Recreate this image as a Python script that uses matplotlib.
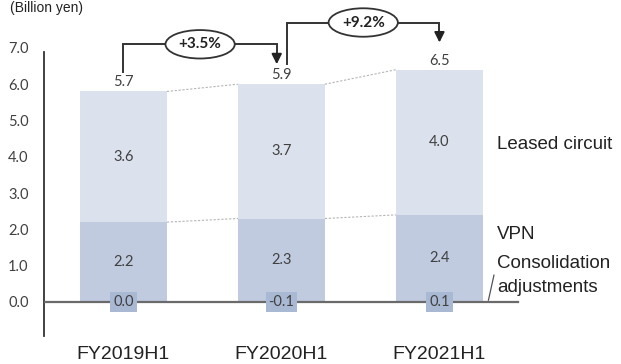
import matplotlib.pyplot as plt

periods = ["FY2019H1", "FY2020H1", "FY2021H1"]
leased = [3.6, 3.7, 4.0]
vpn = [2.2, 2.3, 2.4]
consol = [0.0, -0.1, 0.1]
totals = [5.7, 5.9, 6.5]
growth = ["+3.5%", "+9.2%"]
yticks = [0.0, 1.0, 2.0, 3.0, 4.0, 5.0, 6.0, 7.0]

c_leased = "#dbe2ee"
c_vpn = "#c0cbdf"
c_consol = "#a9b9d3"
txt = "#404040"
num_font = "Lato"
lab_font = "Liberation Sans"

fig = plt.figure(figsize=(6.21, 3.64), dpi=100)
ax = fig.add_axes([44 / 621, 28 / 364, 1 - 44 / 621, 336 / 364])
ax.set_xlim(-0.503, 3.149)
ax.set_ylim(-0.937, 8.32)

x = list(range(len(periods)))
w = 0.55

ax.bar(x, vpn, width=w, color=c_vpn, zorder=2)
ax.bar(x, leased, width=w, bottom=vpn, color=c_leased, zorder=2)
ax.bar(x, consol, width=0.16, color=c_consol, zorder=2)

# dotted connectors between neighbouring bars
tops = [v + l for v, l in zip(vpn, leased)]
for i in range(len(x) - 1):
    for a, b in [(tops[i], tops[i + 1]), (vpn[i], vpn[i + 1]), (0, 0)]:
        ax.plot([x[i] + w / 2, x[i + 1] - w / 2], [a, b], color="#b5b5b5",
                lw=0.8, ls=(0, (2, 1.5)), zorder=1)

# baseline
ax.plot([-0.503, 2.497], [0, 0], color="#6a6a6a", lw=1.6, zorder=3)

for i in x:
    ax.text(i, tops[i] + 0.25, f"{totals[i]:.1f}", ha="center", va="center",
            fontsize=10.5, family=num_font, color=txt)
    ax.text(i, vpn[i] + leased[i] / 2, f"{leased[i]:.1f}", ha="center", va="center",
            fontsize=10.5, family=num_font, color=txt)
    ax.text(i, vpn[i] / 2, f"{vpn[i]:.1f}", ha="center", va="center",
            fontsize=10.5, family=num_font, color=txt)
    ax.text(i, 0, f"{consol[i]:.1f}", ha="center", va="center", zorder=4,
            fontsize=10.5, family=num_font, color=txt,
            bbox=dict(boxstyle="square,pad=0.2", fc=c_consol, ec="none"))
    ax.text(i, -1.56, periods[i], ha="center", va="baseline", fontsize=14,
            family=lab_font, color="#222222", clip_on=False)

# growth brackets
for i, g in enumerate(growth):
    x0 = x[i] + (0.0 if i == 0 else 0.035)
    x1 = x[i + 1] - (0.03 if i == 0 else 0.0)
    y0 = totals[i] + 0.65
    y1 = totals[i + 1] + 0.65
    ytop = y1 + 0.55
    ax.plot([x0, x0, x1, x1], [y0, ytop, ytop, y1 + 0.25], color="#333333",
            lw=1.4, zorder=5, solid_joinstyle="miter")
    ax.annotate("", xy=(x1, y1), xytext=(x1, y1 + 0.3),
                arrowprops=dict(arrowstyle="-|>,head_length=0.6,head_width=0.3",
                                color="#222222", lw=1.4, shrinkA=0, shrinkB=0),
                zorder=5)
    ax.text((x0 + x1) / 2, ytop, g, ha="center", va="center", fontsize=11,
            fontweight="bold", family=num_font, color="#222222", zorder=6,
            bbox=dict(boxstyle="ellipse,pad=0.2", fc="white", ec="#333333", lw=1.3))

# series labels on the right
ax.text(2.364, 4.33, "Leased circuit", ha="left", va="center", fontsize=13.5,
        family=lab_font, color="#222222")
ax.text(2.364, 1.85, "VPN", ha="left", va="center", fontsize=13.5,
        family=lab_font, color="#222222")
ax.text(2.364, 1.05, "Consolidation", ha="left", va="center", fontsize=13.5,
        family=lab_font, color="#222222")
ax.text(2.364, 0.41, "adjustments", ha="left", va="center", fontsize=13.5,
        family=lab_font, color="#222222")
ax.plot([2.31, 2.345], [0.05, 0.74], color="#555555", lw=0.9)

fig.text(10 / 621, 1 - 1 / 364, "(Billion yen)", ha="left", va="top",
         fontsize=10, family=lab_font, color="#222222")

ax.set_yticks(yticks)
ax.set_yticklabels([f"{t:.1f}" for t in yticks], family=num_font, fontsize=10.5,
                   color=txt)
ax.tick_params(axis="y", length=0, pad=11)
ax.set_xticks([])
for s in ["top", "right", "bottom"]:
    ax.spines[s].set_visible(False)
ax.spines["left"].set_bounds(-0.937, 6.9)
ax.spines["left"].set_color("#333333")
ax.spines["left"].set_linewidth(1.3)

fig.savefig("out.png", dpi=100)
